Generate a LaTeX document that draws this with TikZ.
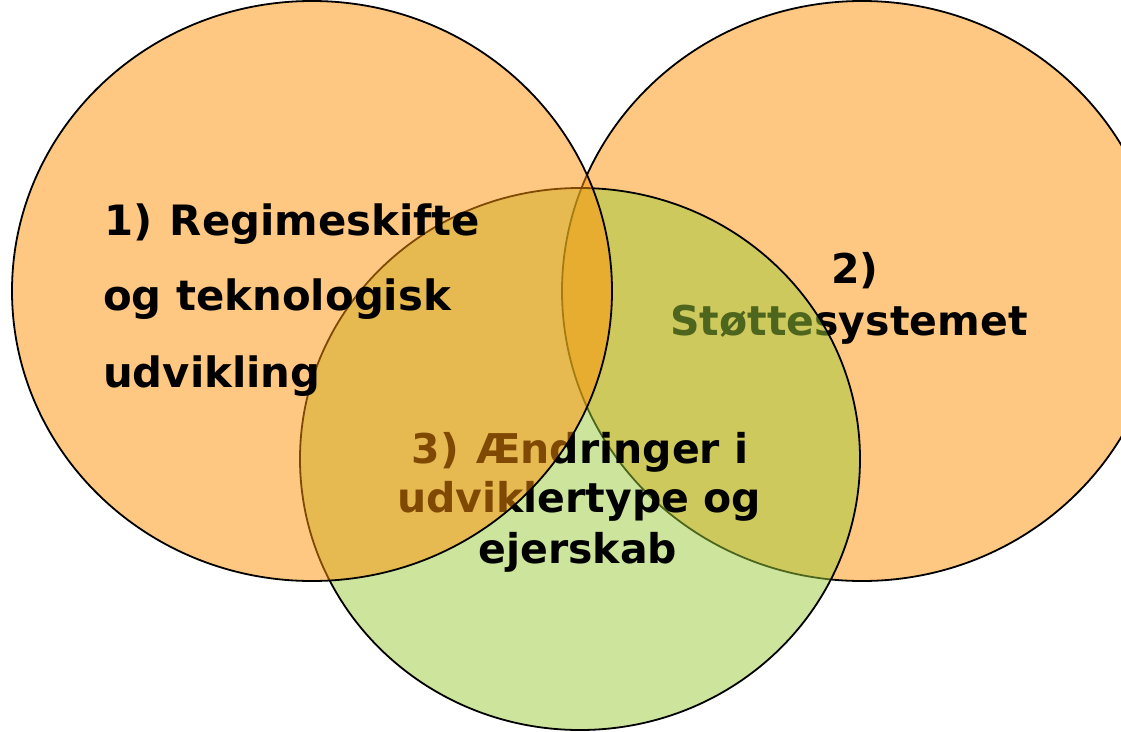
\documentclass[tikz,border=0pt]{standalone}
\usepackage{fontspec}
\setmainfont{DejaVu Sans}
\definecolor{orangeF}{RGB}{255,146,6}
\definecolor{greenF}{RGB}{156,202,58}
\begin{document}
\begin{tikzpicture}[x=1pt,y=-1pt,
  circ/.style={draw=black,line width=1.8pt,fill opacity=0.5},
  lbl/.style={inner sep=0pt,text=black,font=\fontsize{41}{49}\selectfont\bfseries},
  lblA/.style={inner sep=0pt,text=black,font=\fontsize{41.8}{49}\selectfont\bfseries}]
\useasboundingbox (0,0) rectangle (1121,731);
\clip (0,0) rectangle (1121,731);
\fill[white] (0,0) rectangle (1121,731);
% circle 2 (right)
\draw[circ,fill=orangeF] (862,291) ellipse [x radius=300pt, y radius=290pt];
\node[lbl,anchor=base] (t2a) at (855,283) {2)};
\node[lbl,anchor=base] (t2b) at (849,335) {Støttesystemet};
% circle 3 (bottom)
\draw[circ,fill=greenF] (580,459) ellipse [x radius=280pt, y radius=271pt];
\node[lbl,anchor=base] (t3a) at (580,463) {3)\kern3pt{} Ændringer i};
\node[lbl,anchor=base] (t3b) at (579,512) {udviklertype og};
\node[lbl,anchor=base] (t3c) at (578,563) {ejerskab};
% circle 1 (left)
\draw[circ,fill=orangeF] (312,291) ellipse [x radius=300pt, y radius=290pt];
\node[lblA,anchor=base west] (t1a) at (104,235) {1)\kern3pt{} Regimeskifte};
\node[lblA,anchor=base west] (t1b) at (103,310) {og teknologisk};
\node[lblA,anchor=base west] (t1c) at (103,387) {udvikling};
\end{tikzpicture}
\end{document}
